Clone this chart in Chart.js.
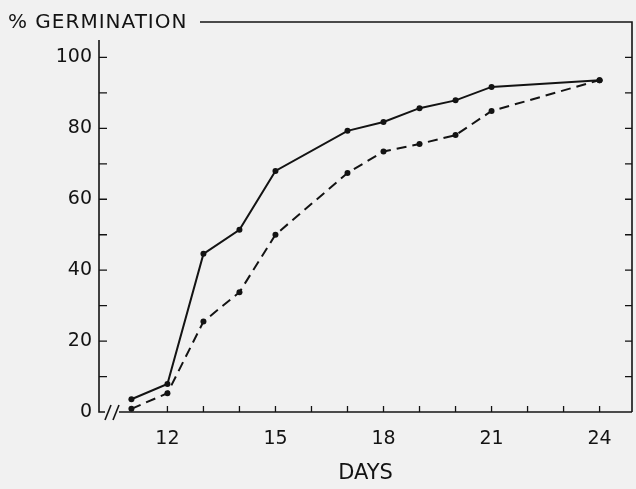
<!DOCTYPE html>
<html>
<head>
<meta charset="utf-8">
<script src="https://cdn.jsdelivr.net/npm/chart.js@4"></script>
<style>
  html, body { margin: 0; padding: 0; background: #f1f1f1; }
  #wrap { width: 636px; height: 489px; }
</style>
</head>
<body>
<div id="wrap"><canvas id="germChart" width="636" height="489"></canvas></div>
<script>
// data
const days = [11, 12, 13, 14, 15, 17, 18, 19, 20, 21, 24];
const solidSeries = [3.6, 7.9, 44.6, 51.4, 68.0, 79.3, 81.8, 85.7, 87.9, 91.7, 93.6];
const dashedSeries = [0.9, 5.3, 25.5, 33.8, 50.0, 67.4, 73.5, 75.6, 78.1, 84.9, 93.6];
const xTickLabels = [12, 15, 18, 21, 24];
const yTickLabels = [0, 20, 40, 60, 80, 100];
const xMinorTicks = [12, 13, 14, 15, 16, 17, 18, 19, 20, 21, 22, 23, 24];
const yMinorTicks = [10, 20, 30, 40, 50, 60, 70, 80, 90, 100];

const ink = '#131313';
const fontFam = '"DejaVu Sans", sans-serif';

// frame, inward ticks, axis break and the y title
const framePlugin = {
    id: 'frame',
    afterDraw(chart) {
        const ctx = chart.ctx;
        const xs = chart.scales.x;
        const ys = chart.scales.y;
        const a = chart.chartArea;
        ctx.save();
        ctx.strokeStyle = ink;
        ctx.lineWidth = 1.6;
        ctx.lineCap = 'butt';

        // left axis (starts a bit below the top line)
        ctx.beginPath();
        ctx.moveTo(a.left, 40);
        ctx.lineTo(a.left, a.bottom);
        ctx.lineTo(a.left + 6, a.bottom);
        ctx.stroke();

        // bottom axis after the break
        ctx.beginPath();
        ctx.moveTo(a.left + 20, a.bottom);
        ctx.lineTo(a.right, a.bottom);
        ctx.stroke();

        // break slashes
        [a.left + 9, a.left + 17].forEach(x => {
            ctx.beginPath();
            ctx.moveTo(x - 3, a.bottom + 8);
            ctx.lineTo(x + 3, a.bottom - 7);
            ctx.stroke();
        });

        // top and right borders
        ctx.beginPath();
        ctx.moveTo(200, a.top);
        ctx.lineTo(a.right, a.top);
        ctx.lineTo(a.right, a.bottom);
        ctx.stroke();

        // inward ticks
        ctx.lineWidth = 1.3;
        xMinorTicks.forEach(v => {
            const x = xs.getPixelForValue(v);
            ctx.beginPath();
            ctx.moveTo(x, a.bottom);
            ctx.lineTo(x, a.bottom - 6);
            ctx.stroke();
        });
        yMinorTicks.forEach(v => {
            const y = ys.getPixelForValue(v);
            ctx.beginPath();
            ctx.moveTo(a.left, y);
            ctx.lineTo(a.left + 8, y);
            ctx.moveTo(a.right, y);
            ctx.lineTo(a.right - 7, y);
            ctx.stroke();
        });

        // y axis title sits on the top line
        ctx.fillStyle = ink;
        ctx.font = '20px ' + fontFam;
        ctx.letterSpacing = '1px';
        ctx.textAlign = 'left';
        ctx.textBaseline = 'alphabetic';
        ctx.fillText('% GERMINATION', 8, 28);
        ctx.restore();
    }
};

new Chart(document.getElementById('germChart'), {
    type: 'line',
    data: {
        datasets: [{
            label: 'solid',
            data: days.map((d, i) => ({ x: d, y: solidSeries[i] })),
            borderColor: ink,
            borderWidth: 2,
            pointRadius: 3,
            pointBorderWidth: 0,
            pointBackgroundColor: ink,
            tension: 0
        }, {
            label: 'dashed',
            data: days.map((d, i) => ({ x: d, y: dashedSeries[i] })),
            borderColor: ink,
            borderWidth: 2,
            borderDash: [10, 6],
            pointRadius: 3,
            pointBorderWidth: 0,
            pointBackgroundColor: ink,
            tension: 0
        }]
    },
    options: {
        responsive: false,
        animation: false,
        layout: { padding: { left: 0, right: 1, top: 22, bottom: 0 } },
        plugins: { legend: { display: false }, tooltip: { enabled: false } },
        scales: {
            x: {
                type: 'linear',
                min: 10.1,
                max: 24.9,
                afterFit: s => { s.height = 77; },
                afterBuildTicks: s => { s.ticks = xTickLabels.map(v => ({ value: v })); },
                grid: { display: false, drawTicks: false },
                border: { display: false },
                ticks: {
                    color: ink,
                    padding: 16,
                    maxRotation: 0,
                    font: { family: fontFam, size: 19 }
                },
                title: {
                    display: true,
                    text: 'DAYS',
                    color: ink,
                    font: { family: fontFam, size: 21 },
                    padding: { top: 0, bottom: 3 }
                }
            },
            y: {
                min: 0,
                max: 110,
                afterFit: s => { s.width = 99; },
                afterBuildTicks: s => { s.ticks = yTickLabels.map(v => ({ value: v })); },
                grid: { display: false, drawTicks: false },
                border: { display: false },
                ticks: {
                    color: ink,
                    padding: 7,
                    font: { family: fontFam, size: 19 }
                }
            }
        }
    },
    plugins: [framePlugin]
});
</script>
</body>
</html>
